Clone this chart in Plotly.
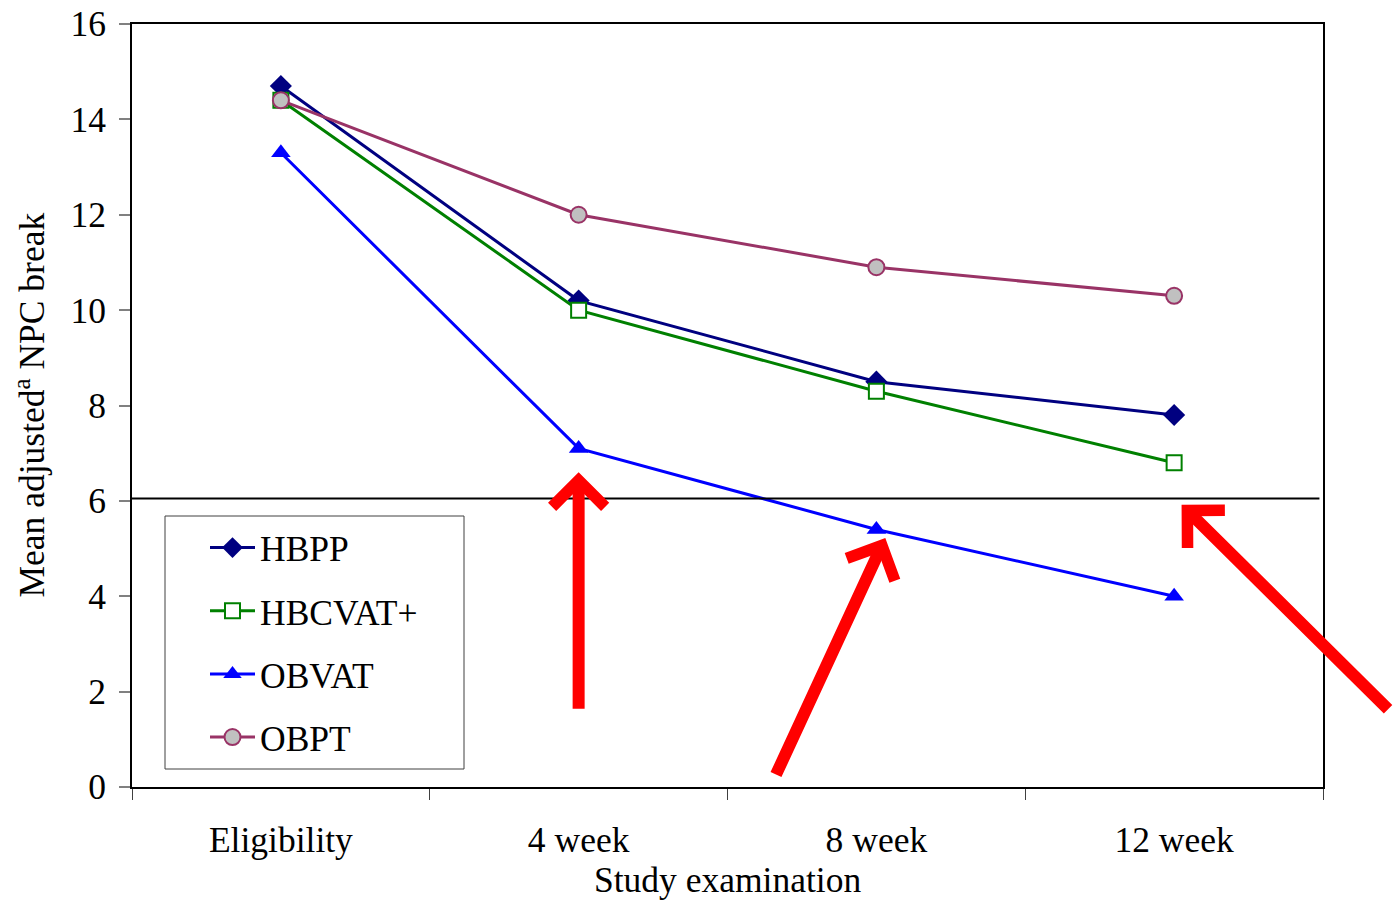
import plotly.graph_objects as go

categories = ["Eligibility", "4 week", "8 week", "12 week"]
hbpp = [14.7, 10.2, 8.5, 7.8]
hbcvat = [14.4, 10.0, 8.3, 6.8]
obvat = [13.3, 7.1, 5.4, 4.0]
obpt = [14.4, 12.0, 10.9, 10.3]
threshold = 6.05
y_ticks = [0, 2, 4, 6, 8, 10, 12, 14, 16]

FONT = "Liberation Serif, Times New Roman, serif"
FS = 35.5

fig = go.Figure()
fig.add_trace(go.Scatter(x=categories, y=hbpp, name="HBPP", mode="lines+markers",
                         line=dict(color="#000080", width=3),
                         marker=dict(symbol="diamond", size=17, color="#000080"),
                         legendgroup="a"))
fig.add_trace(go.Scatter(x=categories, y=hbcvat, name="HBCVAT+", mode="lines+markers",
                         line=dict(color="#008000", width=3),
                         marker=dict(symbol="square", size=15, color="white",
                                     line=dict(color="#008000", width=2)),
                         legendgroup="b"))
fig.add_trace(go.Scatter(x=categories, y=obvat, name="OBVAT", mode="lines+markers",
                         line=dict(color="#0000FF", width=3),
                         marker=dict(symbol="triangle-up", size=17, color="#0000FF"),
                         legendgroup="c"))
fig.add_trace(go.Scatter(x=categories, y=obpt, name="OBPT", mode="lines+markers",
                         line=dict(color="#993366", width=3),
                         marker=dict(symbol="circle", size=16, color="#C0C0C0",
                                     line=dict(color="#993366", width=2)),
                         legendgroup="d"))

# threshold line
fig.add_shape(type="line", xref="paper", yref="y", x0=0, x1=0.997,
              y0=threshold, y1=threshold, line=dict(color="black", width=2))

# legend box
fig.add_shape(type="rect", xref="paper", yref="paper",
              x0=(165 - 132) / 1191, x1=(464 - 132) / 1191,
              y0=(787 - 769) / 763, y1=(787 - 516) / 763,
              line=dict(color="#404040", width=1), fillcolor="white", layer="below")

# red arrows (head point in data coords, tail offsets in px)
arrows = [
    (categories[1], 6.6, 0, 238),
    (2.03, 5.22, -110, 238),
    (3.025, 5.92, 208, 206),
]
for ax_x, ax_y, dx, dy in arrows:
    fig.add_annotation(x=ax_x, y=ax_y, xref="x", yref="y", ax=dx, ay=dy,
                       text="", showarrow=True, arrowhead=4, arrowsize=0.85,
                       arrowwidth=12, arrowcolor="#FF0000", standoff=0)

# axis titles
fig.add_annotation(text="Mean adjusted<sup>a</sup> NPC break", xref="paper", yref="paper",
                   x=(30 - 132) / 1191, y=0.5, textangle=-90, showarrow=False,
                   font=dict(family=FONT, size=FS, color="black"),
                   xanchor="center", yanchor="middle")
fig.add_annotation(text="Study examination", xref="paper", yref="paper",
                   x=0.5, y=(787 - 880) / 763, showarrow=False,
                   font=dict(family=FONT, size=FS, color="black"),
                   xanchor="center", yanchor="middle")

fig.update_layout(
    width=1396, height=900,
    margin=dict(l=132, r=73, t=24, b=113, autoexpand=False),
    paper_bgcolor="white", plot_bgcolor="white",
    font=dict(family=FONT, size=FS, color="black"),
    showlegend=True,
    legend=dict(x=(205 - 132) / 1191, y=(787 - 518) / 763, xanchor="left", yanchor="top",
                bgcolor="rgba(0,0,0,0)", borderwidth=0, tracegroupgap=14, itemwidth=45,
                font=dict(family=FONT, size=FS, color="black")),
)
fig.update_xaxes(type="category", range=[-0.5, 3.5], tickson="boundaries",
                 ticks="outside", ticklen=11, tickcolor="#404040", tickwidth=1,
                 showline=True, linecolor="black", linewidth=2, mirror=True,
                 showgrid=False, zeroline=False, ticklabelstandoff=20, automargin=False,
                 tickfont=dict(family=FONT, size=FS, color="black"))
fig.update_yaxes(range=[0, 16], tickvals=y_ticks, ticks="outside", ticklen=11,
                 tickcolor="#808080", tickwidth=2,
                 showline=True, linecolor="black", linewidth=2, mirror=True,
                 showgrid=False, zeroline=False, ticklabelstandoff=6, automargin=False,
                 tickfont=dict(family=FONT, size=FS, color="black"))

fig.write_html("out.html", config={"displayModeBar": False},
               post_script="document.body.style.margin='0';document.body.style.overflow='hidden';")
